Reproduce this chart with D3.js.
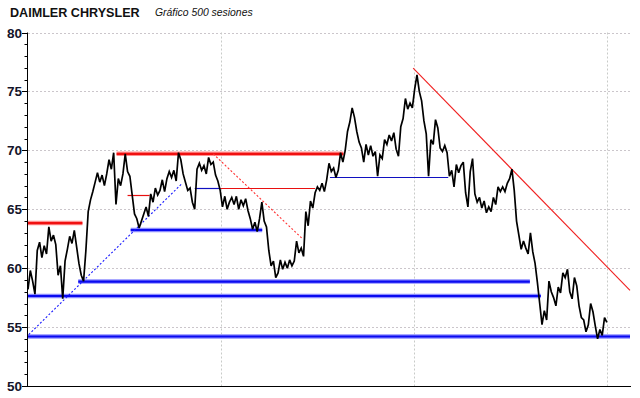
<!DOCTYPE html>
<html>
<head>
<meta charset="utf-8">
<script src="https://cdn.jsdelivr.net/npm/d3@7"></script>
<style>
  html, body { margin: 0; padding: 0; background: #fff; }
  svg { display: block; }
  .title { font-family: "Liberation Sans", Arial, sans-serif; font-weight: bold; font-size: 12.6px; fill: #111; }
  .subtitle { font-family: "Liberation Sans", Arial, sans-serif; font-style: italic; font-size: 10.4px; fill: #111; }
  .y-label { font-family: "Liberation Sans", Arial, sans-serif; font-weight: bold; font-size: 13.5px; fill: #14142a; }
</style>
</head>
<body>
<svg id="chart" width="640" height="398"></svg>
<script>
const WIDTH = 640;
const HEIGHT = 398;

// price axis
const Y_TICKS = [50, 55, 60, 65, 70, 75, 80];
const Y_MINOR = d3.range(50, 81, 1);
// session numbers of the vertical dotted grid lines
const GRID_SESSIONS = [167, 333, 500];

// closing prices, one value every 2 sessions (500 sessions)
const SESSION_STEP = 2;
const CLOSES = [
  58.2, 59.8, 58.9, 57.8, 61.5, 62.2, 60.9, 61.9, 61.2, 63.5,
  62.3, 62.8, 62.0, 59.4, 60.2, 57.4, 60.6, 61.6, 62.7, 62.1,
  63.2, 61.8, 60.4, 59.4, 58.9, 61.5, 64.8, 65.8, 66.5, 67.3,
  68.1, 67.3, 67.9, 67.0, 68.0, 69.2, 68.4, 69.8, 65.4, 67.6,
  67.0, 68.0, 69.7, 68.2, 67.8, 66.2, 64.6, 64.2, 63.4, 64.0,
  64.6, 65.2, 64.4, 66.3, 65.6, 66.8, 66.2, 66.6, 67.5, 66.5,
  67.6, 68.2, 67.7, 68.3, 67.4, 69.8, 69.2, 68.0, 67.3, 66.6,
  66.8, 65.6, 65.0, 68.4, 68.9, 68.3, 68.7, 68.0, 69.4, 68.8,
  69.0, 67.9, 67.4, 66.6, 65.2, 66.1, 65.0, 65.6, 66.0, 65.4,
  66.1, 65.0, 65.8, 65.3, 65.9, 64.9, 64.2, 63.3, 63.9, 63.1,
  64.2, 65.6, 64.0, 63.5, 61.5, 60.2, 60.6, 59.2, 59.6, 60.7,
  59.9, 60.5, 60.0, 60.7, 60.2, 60.6, 62.3, 61.3, 61.7, 61.0,
  64.8, 63.6, 65.7, 65.1, 66.4, 66.9, 66.6, 67.2, 66.5, 67.5,
  68.9, 68.2, 68.5, 67.7, 68.3, 69.8, 69.0, 70.0, 71.6, 72.4,
  73.6, 72.8, 71.6, 70.7, 70.2, 69.0, 70.5, 69.6, 70.4, 69.5,
  69.9, 67.8, 69.6, 69.3, 70.9, 70.5, 71.3, 70.8, 71.5, 70.1,
  69.5, 72.0, 72.7, 74.4, 73.5, 74.0, 73.6, 75.2, 76.4, 75.0,
  74.2, 72.5, 71.4, 67.8, 70.9, 70.5, 72.6, 71.9, 70.2, 69.9,
  70.4, 69.8, 67.8, 68.3, 66.9, 68.8, 68.1, 68.7, 69.0, 66.4,
  65.2, 68.2, 69.3, 66.3, 65.6, 66.0, 65.1, 65.7, 64.7, 65.2,
  64.8, 66.0, 65.4, 66.9, 66.5, 66.9, 66.5, 67.2, 67.6, 68.4,
  66.6, 64.0, 62.8, 61.6, 62.3, 61.7, 61.2, 63.0, 61.4, 60.4,
  58.8, 57.0, 55.2, 56.4, 55.6, 58.9, 58.0, 57.5, 56.8, 58.4,
  57.9, 59.6, 59.2, 59.9, 58.0, 57.4, 59.2, 58.5, 56.8, 55.8,
  55.6, 54.6, 55.2, 57.0, 56.3, 55.1, 54.0, 54.8, 54.3, 55.8,
  55.4
];

// horizontal levels drawn by the analyst: [price, fromSession, toSession]
const RED_LEVELS = [[63.83, 0, 47], [69.7, 76.5, 272.5]];
const RED_THIN_LEVELS = [[66.2, 86, 105], [66.8, 166, 248]];
const BLUE_LEVELS = [[54.2, 0, 520], [57.64, 0, 443], [58.86, 43.4, 433.5], [63.24, 88.7, 202.3]];
const BLUE_THIN_LEVELS = [[66.8, 144, 166], [67.73, 260.8, 363]];
// trend lines: [[session, price], [session, price]]
const RED_TREND = [[332.7, 76.97], [520, 58.12]];
const RED_DOTTED_TREND = [[160, 69.7], [236.4, 62.56]];
const BLUE_DOTTED_TREND = [[0.6, 54.36], [133.2, 67.2]];

const svg = d3.select("#chart");

const x = d3.scaleLinear().domain([0, 520]).range([28, 630]);
const y = d3.scaleLinear().domain([50, 80]).range([386, 32.5]);

// title
svg.append("text").attr("class", "title").attr("x", 10).attr("y", 17).text("DAIMLER CHRYSLER");
svg.append("text").attr("class", "subtitle").attr("x", 155).attr("y", 16).text("Gráfico 500 sesiones");

// grid
svg.selectAll(".h-grid")
  .data(Y_TICKS.filter((d) => d > 50))
  .enter().append("line")
  .attr("x1", x(0)).attr("x2", x(520))
  .attr("y1", (d) => Math.round(y(d)) + 0.5).attr("y2", (d) => Math.round(y(d)) + 0.5)
  .attr("stroke", "#cbc6cb").attr("stroke-dasharray", "2,2");

svg.selectAll(".v-grid")
  .data(GRID_SESSIONS)
  .enter().append("line")
  .attr("x1", (d) => Math.round(x(d)) + 0.5).attr("x2", (d) => Math.round(x(d)) + 0.5)
  .attr("y1", y(80)).attr("y2", y(50))
  .attr("stroke", "#c8cbc8").attr("stroke-dasharray", "2,2");

// axes
svg.append("line")
  .attr("x1", 27.5).attr("x2", 27.5).attr("y1", y(80)).attr("y2", y(50) + 0.5)
  .attr("stroke", "#000");
svg.append("line")
  .attr("x1", 27).attr("x2", x(520) + 1).attr("y1", Math.round(y(50)) + 0.5).attr("y2", Math.round(y(50)) + 0.5)
  .attr("stroke", "#000");

svg.selectAll(".minor-tick")
  .data(Y_MINOR)
  .enter().append("line")
  .attr("x1", (d) => d % 5 === 0 ? 22 : 24.5).attr("x2", 27.5)
  .attr("y1", (d) => Math.round(y(d)) + 0.5).attr("y2", (d) => Math.round(y(d)) + 0.5)
  .attr("stroke", "#000");

svg.selectAll(".y-label")
  .data(Y_TICKS)
  .enter().append("text")
  .attr("class", "y-label")
  .attr("x", 22)
  .attr("y", (d) => y(d) + 5)
  .attr("text-anchor", "end")
  .text((d) => d);

// thick levels with a soft halo
function thickLevels(levels, core, halo) {
  const g = svg.append("g");
  g.selectAll(".halo").data(levels).enter().append("line")
    .attr("x1", (d) => x(d[1])).attr("x2", (d) => x(d[2]))
    .attr("y1", (d) => y(d[0])).attr("y2", (d) => y(d[0]))
    .attr("stroke", halo).attr("stroke-width", 4.5);
  g.selectAll(".core").data(levels).enter().append("line")
    .attr("x1", (d) => x(d[1])).attr("x2", (d) => x(d[2]))
    .attr("y1", (d) => y(d[0])).attr("y2", (d) => y(d[0]))
    .attr("stroke", core).attr("stroke-width", 2.2);
}

function thinLevels(levels, color) {
  svg.append("g").selectAll("line").data(levels).enter().append("line")
    .attr("x1", (d) => x(d[1])).attr("x2", (d) => x(d[2]))
    .attr("y1", (d) => Math.round(y(d[0])) + 0.5).attr("y2", (d) => Math.round(y(d[0])) + 0.5)
    .attr("stroke", color).attr("stroke-width", 1.2);
}

function trend(pts, color, dash) {
  svg.append("line")
    .attr("x1", x(pts[0][0])).attr("y1", y(pts[0][1]))
    .attr("x2", x(pts[1][0])).attr("y2", y(pts[1][1]))
    .attr("stroke", color).attr("stroke-width", 1.1)
    .attr("stroke-dasharray", dash);
}

thickLevels(BLUE_LEVELS, "#0a0af0", "#8c8cff");
thickLevels(RED_LEVELS, "#f01010", "#ff9090");
thinLevels(RED_THIN_LEVELS, "#e81010");
thinLevels(BLUE_THIN_LEVELS, "#1010c0");
trend(RED_TREND, "#f02020", null);
trend(RED_DOTTED_TREND, "#ff3030", "2,2");
trend(BLUE_DOTTED_TREND, "#1a1aff", "2,2");

// price line
const priceLine = d3.line()
  .x((d, i) => x(i * SESSION_STEP))
  .y((d) => y(d));

svg.append("path")
  .datum(CLOSES)
  .attr("d", priceLine)
  .attr("fill", "none")
  .attr("stroke", "#000")
  .attr("stroke-width", 1.7)
  .attr("stroke-linejoin", "miter")
  .attr("stroke-miterlimit", 3);
</script>
</body>
</html>
